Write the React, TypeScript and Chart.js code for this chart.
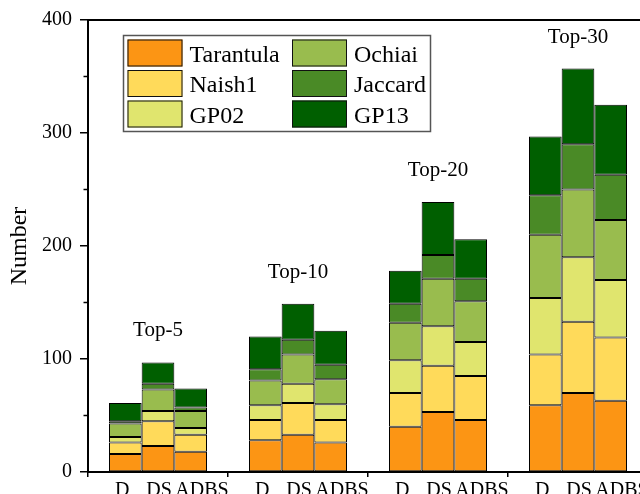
import React, { useEffect, useRef } from 'react';
import { Chart, registerables } from 'chart.js';

Chart.register(...registerables);

const FONT = "'Liberation Serif', 'Times New Roman', serif";

const categories = ['Top-5', 'Top-10', 'Top-20', 'Top-30'];
const variants = ['D', 'DS', 'ADBS'];
const seriesNames = ['Tarantula', 'Naish1', 'GP02', 'Ochiai', 'Jaccard', 'GP13'];
const seriesColors = ['#FC9514', '#FFDA5A', '#E0E56E', '#99BC4E', '#4A8A26', '#005F00'];

// values per variant, one entry per category (Top-5, Top-10, Top-20, Top-30)
const tarantula = { D: [16, 28, 40, 59], DS: [23, 33, 53, 70], ADBS: [18, 26, 46, 63] };
const naish1 = { D: [10, 18, 30, 45], DS: [22, 28, 41, 63], ADBS: [15, 20, 39, 56] };
const gp02 = { D: [5, 13, 29, 50], DS: [9, 17, 35, 57], ADBS: [6, 14, 30, 51] };
const ochiai = { D: [12, 22, 33, 56], DS: [19, 26, 42, 60], ADBS: [15, 22, 36, 53] };
const jaccard = { D: [2, 10, 17, 35], DS: [5, 13, 21, 40], ADBS: [3, 13, 20, 40] };
const gp13 = { D: [16, 29, 29, 52], DS: [19, 32, 47, 67], ADBS: [17, 30, 35, 62] };

const seriesValues = [tarantula, naish1, gp02, ochiai, jaccard, gp13];

const yTicks = [0, 100, 200, 300, 400];
const yMinorTicks = [50, 150, 250, 350];

const decorPlugin = {
  id: 'decor',
  afterDraw(chart: any) {
    const ctx = chart.ctx;
    const { left, top } = chart.chartArea;
    const ys = chart.scales.y;
    const xs = chart.scales.x;
    const nS = seriesNames.length;
    ctx.save();

    // top frame line
    ctx.strokeStyle = '#000';
    ctx.lineWidth = 2;
    ctx.beginPath();
    ctx.moveTo(left - 1, top);
    ctx.lineTo(chart.width, top);
    ctx.stroke();

    // minor y ticks
    ctx.lineWidth = 1.5;
    yMinorTicks.forEach((v) => {
      const py = ys.getPixelForValue(v);
      ctx.beginPath();
      ctx.moveTo(left - 4.5, py);
      ctx.lineTo(left, py);
      ctx.stroke();
    });

    // variant labels under bars and group labels above stacks
    ctx.fillStyle = '#000';
    ctx.textBaseline = 'alphabetic';
    categories.forEach((cat, j) => {
      let minTop = Infinity;
      variants.forEach((v, k) => {
        const first = chart.getDatasetMeta(k * nS).data[j];
        const last = chart.getDatasetMeta(k * nS + nS - 1).data[j];
        if (last.y < minTop) minTop = last.y;
        ctx.font = `20px ${FONT}`;
        const w = first.width;
        if (k === 0) {
          ctx.textAlign = 'center';
          ctx.fillText(v, first.x - 3, 496);
        } else if (k === 1) {
          ctx.textAlign = 'center';
          ctx.fillText(v, first.x + 1, 496);
        } else {
          ctx.textAlign = 'left';
          ctx.fillText(v, first.x - w / 2 + 1, 496);
        }
      });
      ctx.font = `21px ${FONT}`;
      ctx.textAlign = 'center';
      ctx.fillText(cat, xs.getPixelForValue(j), minTop - 26);
    });

    // legend
    const bx = left + 35.5;
    const by = top + 15.5;
    ctx.strokeStyle = '#555';
    ctx.lineWidth = 1.5;
    ctx.strokeRect(bx, by, 307, 96);
    ctx.font = `24px ${FONT}`;
    ctx.textAlign = 'left';
    seriesNames.forEach((name, i) => {
      const col = Math.floor(i / 3);
      const row = i % 3;
      const sx = bx + 4 + col * 164.5;
      const sy = by + 4 + row * 30.5;
      ctx.fillStyle = seriesColors[i];
      ctx.fillRect(sx, sy, 55, 27);
      ctx.strokeStyle = '#111';
      ctx.lineWidth = 1;
      ctx.strokeRect(sx + 0.5, sy + 0.5, 54, 26);
      ctx.fillStyle = '#000';
      ctx.fillText(name, sx + 62, sy + 13.5 + 8.5);
    });

    ctx.restore();
  },
};

export default function App() {
  const canvasRef = useRef<HTMLCanvasElement>(null);

  useEffect(() => {
    if (!canvasRef.current) return;
    const datasets: any[] = [];
    variants.forEach((v) => {
      seriesNames.forEach((name, i) => {
        datasets.push({
          label: name,
          stack: v,
          data: (seriesValues[i] as any)[v],
          backgroundColor: seriesColors[i],
          borderColor: '#000',
          borderWidth: 1,
          borderSkipped: false,
          categoryPercentage: 0.7,
          barPercentage: 1,
        });
      });
    });

    const chart = new Chart(canvasRef.current, {
      type: 'bar',
      data: { labels: categories, datasets },
      options: {
        animation: false,
        responsive: false,
        devicePixelRatio: 1,
        layout: { padding: { top: 20, right: 2, bottom: 0, left: 0 } },
        plugins: {
          legend: { display: false },
          tooltip: { enabled: false },
        },
        scales: {
          x: {
            stacked: true,
            grid: {
              display: true,
              offset: true,
              drawOnChartArea: false,
              drawTicks: true,
              tickLength: 5,
              color: '#000',
              lineWidth: 1.5,
            },
            border: { display: true, color: '#000', width: 2 },
            ticks: { display: false },
            afterFit: (s: any) => {
              s.height = 22;
            },
          },
          y: {
            stacked: true,
            min: 0,
            max: 400,
            afterBuildTicks: (s: any) => {
              s.ticks = yTicks.map((v) => ({ value: v }));
            },
            grid: {
              display: true,
              drawOnChartArea: false,
              drawTicks: true,
              tickLength: 8,
              color: '#000',
              lineWidth: 1.5,
            },
            border: { display: true, color: '#000', width: 2 },
            ticks: {
              color: '#000',
              font: { family: FONT, size: 20 },
              padding: 8,
            },
            title: {
              display: true,
              text: 'Number',
              color: '#000',
              font: { family: FONT, size: 24 },
              padding: { top: 5, bottom: 0 },
            },
            afterFit: (s: any) => {
              s.width = 88;
            },
          },
        },
      },
      plugins: [decorPlugin],
    });
    return () => chart.destroy();
  }, []);

  return (
    <div
      style={{
        position: 'fixed',
        left: 0,
        top: 0,
        width: 640,
        height: 494,
        overflow: 'hidden',
        background: '#fff',
      }}
    >
      <canvas ref={canvasRef} width={650} height={494} style={{ display: 'block' }} />
    </div>
  );
}
